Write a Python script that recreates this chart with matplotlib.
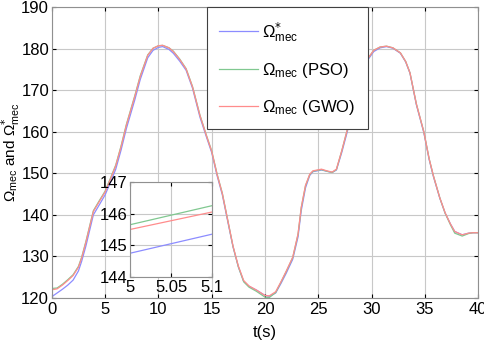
import numpy as np
import matplotlib
matplotlib.use("Agg")
import matplotlib.pyplot as plt

plt.rcParams['font.family'] = ['Liberation Sans', 'DejaVu Sans']
plt.rcParams['mathtext.fontset'] = 'custom'
plt.rcParams['mathtext.rm'] = 'Liberation Sans'
plt.rcParams['mathtext.it'] = 'Liberation Sans'
plt.rcParams['mathtext.sf'] = 'DejaVu Sans'

# time (s)
t = [0, 0.05, 0.5, 1, 1.5, 2, 2.5, 2.8, 3.2, 3.9,
     4.5, 5, 5.5, 6, 6.5, 7, 7.8, 8.3, 9, 9.5,
     10, 10.4, 11, 11.4, 12, 12.6, 13.2, 13.9, 14.5, 15,
     15.5, 16, 16.5, 17, 17.5, 18, 18.5, 19.2, 20, 20.4,
     21, 21.5, 22, 22.6, 23.1, 23.4, 23.8, 24.2, 24.5, 24.9,
     25.3, 25.8, 26.3, 26.7, 27.2, 27.7, 28.2, 28.7, 29.2, 29.7,
     30.2, 30.8, 31.4, 32, 32.7, 33.2, 33.6, 34.2, 34.9, 35.4,
     35.8, 36.4, 36.9, 37.4, 37.8, 38.5, 39.1, 39.5, 40]

w_ref = [120.3, 120.4, 121.2, 122.1, 123.1, 124.3, 126.5, 128.8, 132.5, 140.0,
         142.6, 144.8, 147.8, 151.0, 155.6, 160.8, 167.8, 172.6, 177.8, 179.6,
         180.3, 180.5, 179.8, 178.9, 177.0, 174.8, 170.5, 163.5, 158.8, 155.0,
         149.5, 144.8, 138.5, 132.3, 127.5, 124.0, 122.8, 121.9, 120.6, 120.4,
         121.2, 123.5, 126.0, 129.3, 134.7, 141.0, 146.5, 149.5, 150.4, 150.6,
         150.8, 150.5, 150.2, 150.8, 155.0, 159.8, 165.0, 170.0, 174.5, 177.5,
         179.3, 180.2, 180.5, 180.1, 178.9, 176.8, 174.1, 166.5, 159.8, 153.3,
         149.2, 144.0, 140.4, 137.8, 136.0, 135.2, 135.6, 135.7, 135.7]

w_pso = [122.6, 122.3, 122.4, 123.3, 124.4, 125.6, 127.6, 129.8, 133.6, 141.0,
         143.6, 145.7, 148.8, 152.0, 156.6, 161.8, 168.8, 173.5, 178.5, 180.1,
         180.7, 180.8, 180.2, 179.4, 177.5, 175.2, 170.9, 164.0, 159.2, 155.4,
         149.9, 145.2, 138.8, 132.4, 127.5, 123.9, 122.6, 121.6, 120.2, 120.1,
         121.3, 123.8, 126.4, 129.7, 135.3, 141.7, 147.0, 149.7, 150.5, 150.7,
         150.9, 150.5, 150.2, 150.9, 155.4, 160.3, 165.5, 170.5, 174.9, 177.8,
         179.6, 180.4, 180.6, 180.2, 179.0, 176.9, 174.2, 166.7, 160.0, 153.5,
         149.4, 144.1, 140.4, 137.6, 135.6, 134.9, 135.5, 135.7, 135.7]

w_gwo = [166.0, 122.0, 122.2, 123.1, 124.2, 125.4, 127.4, 129.6, 133.4, 140.8,
         143.4, 145.5, 148.6, 151.8, 156.4, 161.6, 168.6, 173.3, 178.4, 180.1,
         180.7, 180.8, 180.2, 179.3, 177.4, 175.1, 170.8, 163.9, 159.1, 155.3,
         149.8, 145.1, 138.8, 132.5, 127.7, 124.2, 122.9, 121.9, 120.6, 120.5,
         121.5, 123.9, 126.5, 129.8, 135.4, 141.8, 147.1, 149.8, 150.6, 150.8,
         151.0, 150.6, 150.3, 151.0, 155.4, 160.3, 165.5, 170.5, 174.9, 177.8,
         179.6, 180.4, 180.6, 180.2, 179.0, 176.9, 174.2, 166.7, 160.0, 153.5,
         149.4, 144.1, 140.5, 137.8, 136.0, 135.2, 135.6, 135.7, 135.7]

# zoomed window
zoom_t = [5, 5.1]
zoom_ref = [144.75, 145.35]
zoom_pso = [145.65, 146.25]
zoom_gwo = [145.5, 146.05]

c_ref = '#8c8cff'
c_pso = '#80c890'
c_gwo = '#ff8c8c'
grid_c = '#c8c8c8'
fs = 12

star = 'Ω$^{\\mathsf{*}}_{\\rm mec}$'
plain = 'Ω$_{\\rm mec}$'

fig = plt.figure(figsize=(4.84, 3.56), dpi=100)
ax = fig.add_axes([0.107, 0.163, 0.881, 0.817])

ax.plot(t, w_ref, color=c_ref, lw=0.9, label=star)
ax.plot(t, w_pso, color=c_pso, lw=0.9, label=plain + ' (PSO)')
ax.plot(t, w_gwo, color=c_gwo, lw=0.9, label=plain + ' (GWO)')

ax.set_xlim(0, 40)
ax.set_ylim(120, 190)
ax.set_xticks(np.arange(0, 41, 5))
ax.set_yticks(np.arange(120, 191, 10))
ax.grid(True, color=grid_c, lw=0.8)
ax.tick_params(direction='in', top=True, right=True, length=3, labelsize=fs, pad=3)
ax.tick_params(axis='y', pad=2)
for s in ax.spines.values():
    s.set_color('#909090')
    s.set_linewidth(0.8)
ax.set_xlabel('t(s)', fontsize=fs, labelpad=6)
ax.set_ylabel(plain + ' and ' + star, fontsize=11)
ax.yaxis.set_label_coords(-0.072, 0.5)

leg = ax.legend(loc='upper left', bbox_to_anchor=(0.364, 1.0), fontsize=fs,
                handlelength=2.3, labelspacing=1.05, borderpad=0.75,
                handletextpad=0.25, borderaxespad=0, fancybox=False,
                framealpha=1)
leg.get_frame().set_edgecolor('#404040')
leg.get_frame().set_linewidth(0.8)

ins = fig.add_axes([0.269, 0.222, 0.169, 0.267])
ins.plot(zoom_t, zoom_ref, color=c_ref, lw=0.9)
ins.plot(zoom_t, zoom_pso, color=c_pso, lw=0.9)
ins.plot(zoom_t, zoom_gwo, color=c_gwo, lw=0.9)
ins.set_xlim(5, 5.1)
ins.set_ylim(144, 147)
ins.set_xticks([5, 5.05, 5.1])
ins.set_xticklabels(['5', '5.05', '5.1'])
ins.set_yticks([144, 145, 146, 147])
ins.grid(True, color=grid_c, lw=0.8)
ins.tick_params(direction='in', top=True, right=True, length=3, labelsize=fs, pad=2)
for s in ins.spines.values():
    s.set_color('#909090')
    s.set_linewidth(0.8)

fig.savefig('out.png', dpi=100)
